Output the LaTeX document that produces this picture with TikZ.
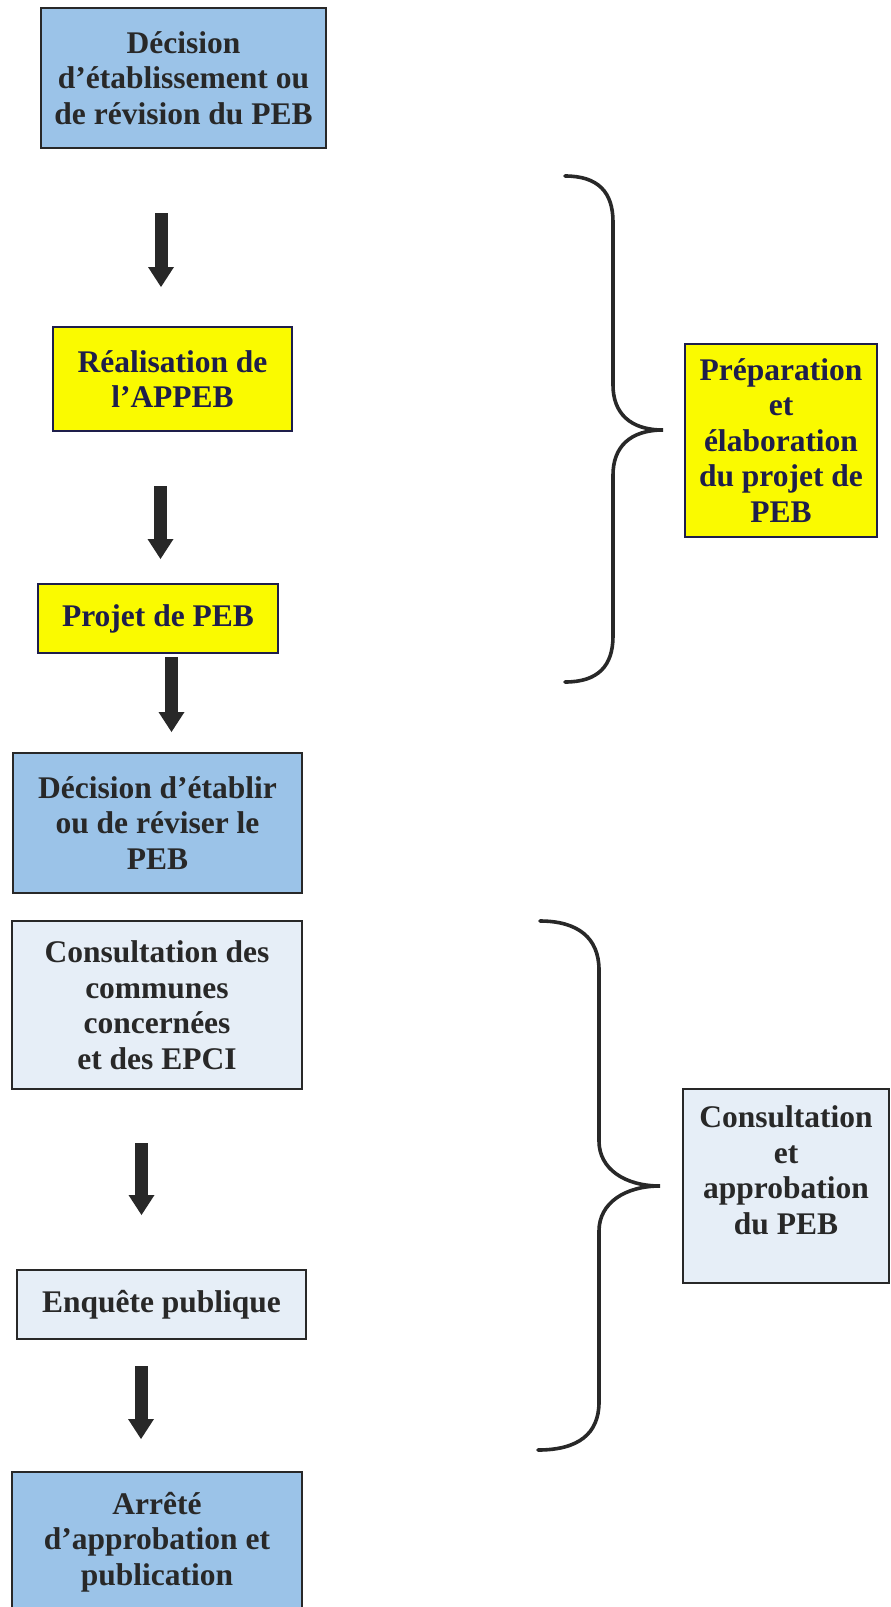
\documentclass[tikz,border=0pt]{standalone}
\usepackage{fontspec}
\setmainfont{Liberation Serif}
\usepackage{tikz}
\usetikzlibrary{arrows.meta}
\definecolor{pebblue}{RGB}{155,195,232}
\definecolor{pebyellow}{RGB}{250,250,0}
\definecolor{peblight}{RGB}{230,238,247}
\definecolor{pebnavy}{RGB}{30,30,75}
\definecolor{pebdark}{RGB}{40,40,40}
\newcommand{\boxfont}{\fontsize{31.5pt}{35.5pt}\selectfont\bfseries}
\tikzstyle{bluebox} = [rectangle, draw=pebdark, line width=1.8pt, fill=pebblue,
text=pebdark, align=center, font=\boxfont]
\tikzstyle{yellowbox} = [rectangle, draw=pebnavy, line width=1.8pt, fill=pebyellow,
text=pebnavy, align=center, font=\boxfont]
\tikzstyle{lightbox} = [rectangle, draw=pebdark, line width=1.8pt, fill=peblight,
text=pebdark, align=center, font=\boxfont]
\tikzstyle{bigarrow} = [draw=pebdark, line width=13pt,
-{Triangle[width=26pt, length=20pt, line width=0pt]}]
\tikzstyle{curly} = [draw=pebdark, line width=3.6pt, line cap=round]

\begin{document}
\begin{tikzpicture}[x=1pt, y=-1pt]
	
	\useasboundingbox (0,0) rectangle (891,1607);
	
	% Main column
	\node [bluebox, minimum width=285pt, minimum height=140pt] (decision) at (183.5,78)
	{Décision\\d’établissement ou\\de révision du PEB};
	\node [yellowbox, minimum width=239pt, minimum height=104pt] (appeb) at (172.5,379)
	{Réalisation de\\l’APPEB};
	\node [yellowbox, minimum width=240pt, minimum height=69pt] (projet) at (158,618.5)
	{Projet de PEB};
	\node [bluebox, minimum width=289pt, minimum height=140pt] (etablir) at (157.5,823)
	{Décision d’établir\\ou de réviser le\\PEB};
	\node [lightbox, minimum width=290pt, minimum height=168pt] (communes) at (157,1005)
	{Consultation des\\communes\\concernées\\et des EPCI};
	\node [lightbox, minimum width=289pt, minimum height=69pt] (enquete) at (161.5,1304.5)
	{Enquête publique};
	\node [bluebox, minimum width=290pt, minimum height=140pt] (arrete) at (157,1542)
	{Arrêté\\d’approbation et\\publication};
	
	% Phase labels
	\node [yellowbox, minimum width=192pt, minimum height=193pt] (preparation) at (781,440.5)
	{Préparation\\et\\élaboration\\du projet de\\PEB};
	\node [lightbox, minimum width=206pt, minimum height=194pt] (approbation) at (786,1186)
	{Consultation\\et\\approbation\\du PEB\\[-4pt]\mbox{}};
	
	% Arrow ends
	\coordinate (a1s) at (161,213);   \coordinate (a1e) at (161,287);
	\coordinate (a2s) at (160.5,486); \coordinate (a2e) at (160.5,559);
	\coordinate (a3s) at (171.5,657); \coordinate (a3e) at (171.5,732);
	\coordinate (a4s) at (141.5,1143);\coordinate (a4e) at (141.5,1215);
	\coordinate (a5s) at (141,1366);  \coordinate (a5e) at (141,1439);
	
	% Edges
	\path [bigarrow] (a1s) -- (a1e);
	\path [bigarrow] (a2s) -- (a2e);
	\path [bigarrow] (a3s) -- (a3e);
	\path [bigarrow] (a4s) -- (a4e);
	\path [bigarrow] (a5s) -- (a5e);
	
	% Braces
	\path [curly] (565,176) .. controls (598,176) and (613,192) .. (613,222)
	-- (613,385) .. controls (613,413) and (630,430) .. (663,430)
	.. controls (630,430) and (613,447) .. (613,475)
	-- (613,636) .. controls (613,666) and (598,682) .. (565,682);
	\path [curly] (540,921) .. controls (578,921) and (599,938) .. (599,970)
	-- (599,1141) .. controls (599,1169) and (625,1186) .. (660,1186)
	.. controls (625,1186) and (599,1203) .. (599,1231)
	-- (599,1402) .. controls (599,1434) and (578,1450) .. (538,1450);
	
\end{tikzpicture}
\end{document}
